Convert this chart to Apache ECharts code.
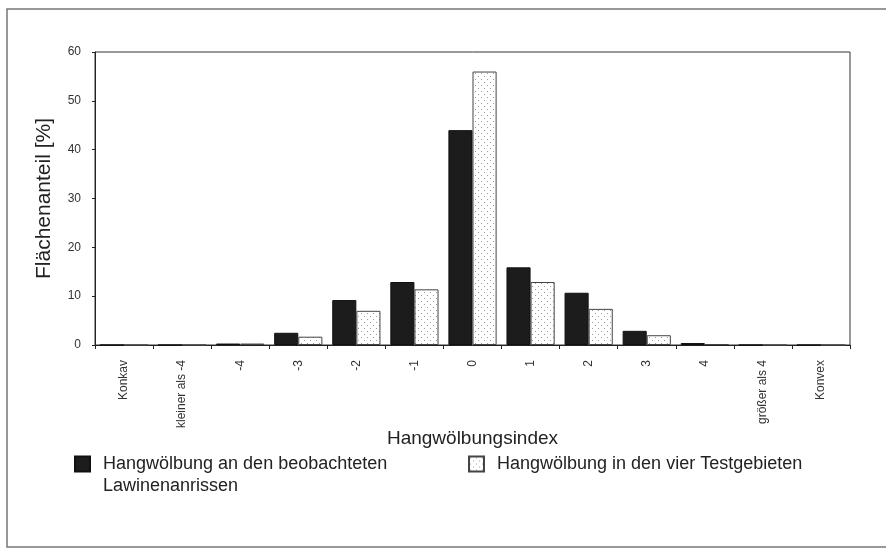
<!DOCTYPE html>
<html>
<head>
<meta charset="utf-8">
<script src="https://cdn.jsdelivr.net/npm/echarts@6/dist/echarts.min.js"></script>
<style>
  html, body { margin: 0; padding: 0; background: #fff; }
  #chart { width: 886px; height: 553px; }
</style>
</head>
<body>
<div id="chart"></div>
<script>
// Hangwölbungsindex categories
var categories = ['Konkav', 'kleiner als -4', '-4', '-3', '-2', '-1', '0', '1', '2', '3', '4', 'größer als 4', 'Konvex']
// Flächenanteil [%] an den Lawinenanrissen
var anrisse = [0, 0, 0.3, 2.5, 9.2, 12.9, 44.0, 15.9, 10.7, 2.9, 0.4, 0, 0]
// Flächenanteil [%] in den vier Testgebieten
var testgebiete = [0, 0, 0.3, 1.7, 7.0, 11.4, 56.0, 12.9, 7.4, 2.0, 0.2, 0, 0]
var yTicks = [0, 10, 20, 30, 40, 50, 60]

var seriesNames = ['Hangwölbung an den beobachteten', 'Hangwölbung in den vier Testgebieten']

// dotted fill like the scanned print
function dotPattern() {
  var c = document.createElement('canvas')
  c.width = 6
  c.height = 6
  var ctx = c.getContext('2d')
  ctx.fillStyle = '#fff'
  ctx.fillRect(0, 0, 6, 6)
  ctx.fillStyle = '#9a9a9a'
  ctx.fillRect(1, 1, 1, 1)
  ctx.fillRect(4, 4, 1, 1)
  return c
}

var font = '"Liberation Sans", Arial, sans-serif'
var chart = echarts.init(document.getElementById('chart'), null, { renderer: 'canvas' })

var legendBase = {
  top: 455,
  padding: 0,
  icon: 'rect',
  itemWidth: 15, itemHeight: 15,
  textStyle: { fontSize: 18, color: '#222', padding: [0, 0, 0, 8] }
}

chart.setOption({
  animation: false,
  backgroundColor: '#fff',
  textStyle: { fontFamily: font, color: '#222' },
  grid: {
    left: 95, right: 36, top: 52, bottom: 208,
    show: true, borderColor: '#333', borderWidth: 1
  },
  legend: [
    Object.assign({}, legendBase, { left: 74, data: [seriesNames[0]] }),
    Object.assign({}, legendBase, { left: 468, data: [seriesNames[1]] })
  ],
  xAxis: {
    type: 'category',
    data: categories,
    name: 'Hangwölbungsindex',
    nameLocation: 'middle',
    nameGap: 84,
    nameMoveOverlap: false,
    nameTextStyle: { fontSize: 19, color: '#222' },
    axisLine: { lineStyle: { color: '#222', width: 1 } },
    axisTick: { show: true, length: 4, lineStyle: { color: '#222' } },
    axisLabel: { rotate: 90, fontSize: 12, color: '#333', margin: 15 }
  },
  yAxis: {
    type: 'value',
    min: yTicks[0],
    max: yTicks[yTicks.length - 1],
    interval: 10,
    name: 'Flächenanteil [%]',
    nameLocation: 'middle',
    nameGap: 40,
    nameMoveOverlap: false,
    nameTextStyle: { fontSize: 21, color: '#222' },
    axisLine: { show: true, lineStyle: { color: '#222', width: 1 } },
    axisTick: { show: true, length: 3, lineStyle: { color: '#222' } },
    axisLabel: { fontSize: 12, color: '#333', margin: 14 },
    splitLine: { show: false }
  },
  series: [{
    name: seriesNames[0],
    type: 'bar',
    data: anrisse,
    barGap: '0%',
    barCategoryGap: '17%',
    itemStyle: { color: '#1c1c1c', borderColor: '#111', borderWidth: 1 }
  }, {
    name: seriesNames[1],
    type: 'bar',
    data: testgebiete,
    itemStyle: {
      color: { image: dotPattern(), repeat: 'repeat' },
      borderColor: '#444', borderWidth: 1
    }
  }],
  graphic: [{
    type: 'rect',
    shape: { x: 7, y: 9, width: 900, height: 538 },
    style: { fill: 'none', stroke: '#777', lineWidth: 1.5 },
    silent: true
  }, {
    type: 'text',
    left: 103, top: 477,
    style: { text: 'Lawinenanrissen', font: '18px ' + font, fill: '#222' }
  }]
})
</script>
</body>
</html>
